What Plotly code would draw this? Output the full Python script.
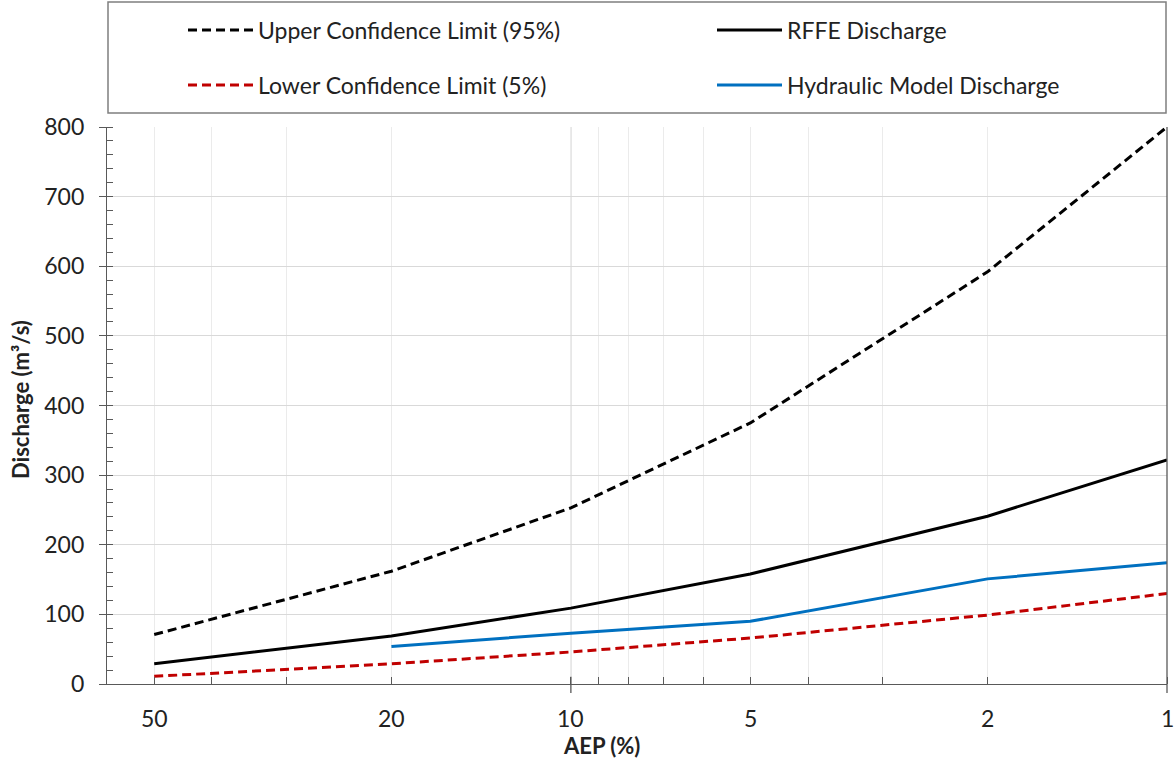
import math
import plotly.graph_objects as go

# ---- data ----
aep = [50, 20, 10, 5, 2, 1]
upper_95 = [71, 162, 253, 375, 592, 800]
rffe = [29, 69, 109, 158, 241, 322]
lower_5 = [11, 29, 46, 66, 99, 130]
aep_hyd = [20, 10, 5, 2, 1]
hydraulic = [54, 73, 90, 151, 174]

x_ticks = [50, 20, 10, 5, 2, 1]
x_tick_text = ["50", "20", "10", "5", "2", "1"]
x_minor = [50, 40, 30, 20, 10, 9, 8, 7, 6, 5, 4, 3, 2, 1]
y_ticks = [0, 100, 200, 300, 400, 500, 600, 700, 800]

FONT = "Lato"
TXT = "#222222"
AXC = "#595959"

W, H = 1174, 765
L, R, T, B = 107, 7, 127, 81
PW, PH = W - L - R, H - T - B


def px_x(p):
    return (p - L) / PW


def px_y(p):
    return (H - B - p) / PH


fig = go.Figure()
fig.add_trace(go.Scatter(x=aep, y=upper_95, mode="lines", name="Upper Confidence Limit (95%)",
                         line=dict(color="#000000", width=3, dash="9px,5px"), legend="legend"))
fig.add_trace(go.Scatter(x=aep, y=rffe, mode="lines", name="RFFE Discharge",
                         line=dict(color="#000000", width=3), legend="legend2"))
fig.add_trace(go.Scatter(x=aep, y=lower_5, mode="lines", name="Lower Confidence Limit (5%)",
                         line=dict(color="#C00000", width=3, dash="9px,5px"), legend="legend3"))
fig.add_trace(go.Scatter(x=aep_hyd, y=hydraulic, mode="lines", name="Hydraulic Model Discharge",
                         line=dict(color="#0070C0", width=3), legend="legend4"))

shapes = [
    # darker major gridline at 10
    dict(type="line", xref="x", yref="paper", x0=10, x1=10, y0=0, y1=1,
         line=dict(color="#d9d9d9", width=1.5), layer="below"),
    # right border
    dict(type="line", xref="paper", yref="paper", x0=1, x1=1, y0=-0.016, y1=1,
         line=dict(color=AXC, width=1.3)),
    # crossing major tick at 10
    dict(type="line", xref="x", yref="paper", x0=10, x1=10, y0=-0.016, y1=0.013,
         line=dict(color=AXC, width=1.3)),
    # legend box
    dict(type="rect", xref="paper", yref="paper", x0=px_x(108), x1=px_x(1166),
         y0=px_y(113), y1=px_y(2), line=dict(color="#7f7f7f", width=1.5),
         fillcolor="rgba(0,0,0,0)"),
]

annotations = [
    dict(text="<b>AEP (%)</b>", xref="paper", yref="paper", x=px_x(601), y=px_y(745),
         xanchor="center", yanchor="middle", showarrow=False,
         font=dict(family=FONT, size=22, color=TXT)),
    dict(text="<b>Discharge (m³/s)</b>", xref="paper", yref="paper", x=px_x(20), y=px_y(400),
         xanchor="center", yanchor="middle", showarrow=False, textangle=-90,
         font=dict(family=FONT, size=22, color=TXT)),
]
# x-axis tick labels (placed at the log-axis positions of the tick values)
for v, t in zip(x_ticks, x_tick_text):
    annotations.append(dict(text=t, xref="x", yref="paper", x=math.log10(v), y=px_y(718),
                            xanchor="center", yanchor="middle", showarrow=False,
                            font=dict(family=FONT, size=23, color=TXT)))

legend_common = dict(orientation="h", xanchor="left", yanchor="middle",
                     itemwidth=65, bgcolor="rgba(0,0,0,0)",
                     borderwidth=0, font=dict(family=FONT, size=23, color=TXT))

fig.update_layout(
    width=W, height=H,
    margin=dict(l=L, r=R, t=T, b=B, autoexpand=False),
    paper_bgcolor="white", plot_bgcolor="white",
    font=dict(family=FONT, size=23, color=TXT),
    showlegend=True,
    legend=dict(x=px_x(183), y=px_y(30), **legend_common),
    legend2=dict(x=px_x(712), y=px_y(30), **legend_common),
    legend3=dict(x=px_x(183), y=px_y(85), **legend_common),
    legend4=dict(x=px_x(712), y=px_y(85), **legend_common),
    shapes=shapes,
    annotations=annotations,
    xaxis=dict(
        type="log", range=[math.log10(60), 0],
        tickmode="array", tickvals=x_ticks, ticktext=x_tick_text,
        ticks="", showticklabels=False,
        showgrid=False, zeroline=False,
        showline=True, linecolor=AXC, linewidth=1.3,
        minor=dict(tickmode="array", tickvals=x_minor, ticks="inside", ticklen=7,
                   tickcolor=AXC, tickwidth=1.3, showgrid=True,
                   gridcolor="#ebebeb", gridwidth=1.3),
    ),
    yaxis=dict(
        range=[0, 800], tickmode="array", tickvals=y_ticks,
        ticks="outside", ticklen=7, tickcolor=AXC, tickwidth=1.3,
        showline=True, linecolor=AXC, linewidth=1.3,
        showgrid=True, gridcolor="#d9d9d9", gridwidth=1.3, zeroline=False,
        ticklabelstandoff=10,
        tickfont=dict(family=FONT, size=23, color=TXT),
        minor=dict(dtick=20, ticks="inside", ticklen=6, tickcolor=AXC, tickwidth=1.3,
                   showgrid=False),
    ),
)

fig.write_html("out.html",
               config={"displayModeBar": False, "responsive": False},
               post_script="document.body.style.margin='0';document.body.style.padding='0';")
